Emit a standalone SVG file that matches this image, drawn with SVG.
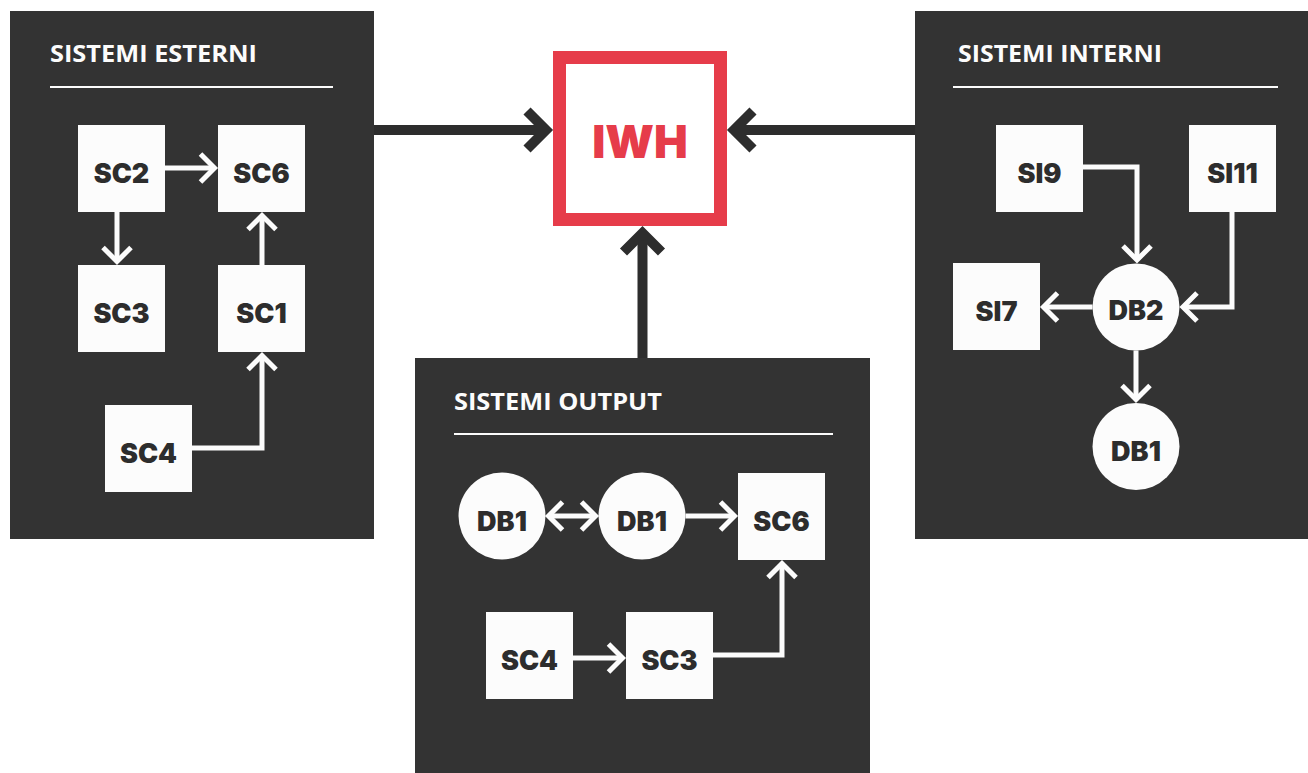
<svg xmlns="http://www.w3.org/2000/svg" width="1308" height="773" viewBox="0 0 1308 773">
<style>
.panel{fill:#333333}
.title{font-family:"Open Sans","Liberation Sans",sans-serif;font-weight:700;font-size:23px;fill:#fcfcfc}
.rule{stroke:#fcfcfc;stroke-width:2}
.box{fill:#fcfcfc}
.lbl{font-family:Inter,"Liberation Sans",sans-serif;font-weight:900;font-size:27px;fill:#2d2d2d;text-anchor:middle}
.w{fill:none;stroke:#fcfcfc;stroke-width:5;marker-end:url(#wh)}
.d{fill:none;stroke:#2d2d2d;stroke-width:10;marker-end:url(#dh)}
</style>
<defs>
<marker id="wh" markerUnits="userSpaceOnUse" orient="auto-start-reverse" refX="0" refY="0" markerWidth="40" markerHeight="40" viewBox="-20 -20 40 40" overflow="visible">
<path d="M-14,-14 L0,0 L-14,14" fill="none" stroke="#fcfcfc" stroke-width="5"/>
</marker>
<marker id="dh" markerUnits="userSpaceOnUse" orient="auto" refX="0" refY="0" markerWidth="60" markerHeight="60" viewBox="-30 -30 60 60" overflow="visible">
<path d="M-19,-19 L0,0 L-19,19" fill="none" stroke="#2d2d2d" stroke-width="10"/>
</marker>
</defs>
<rect width="1308" height="773" fill="#ffffff"/>

<g id="panel-esterni">
<rect class="panel" x="10" y="11" width="364" height="528"/>
<text class="title" x="50" y="62" textLength="207" lengthAdjust="spacingAndGlyphs">SISTEMI ESTERNI</text>
<line class="rule" x1="50" y1="87" x2="333" y2="87"/>
</g>
<g id="panel-interni">
<rect class="panel" x="915" y="11" width="393" height="528"/>
<text class="title" x="958" y="62" textLength="204" lengthAdjust="spacingAndGlyphs">SISTEMI INTERNI</text>
<line class="rule" x1="953" y1="87" x2="1278" y2="87"/>
</g>
<g id="panel-output">
<rect class="panel" x="415" y="358" width="455" height="415"/>
<text class="title" x="454" y="410" textLength="208" lengthAdjust="spacingAndGlyphs">SISTEMI OUTPUT</text>
<line class="rule" x1="454" y1="434" x2="833" y2="434"/>
</g>

<g id="iwh">
<rect x="559.5" y="57.5" width="161" height="162" fill="#ffffff" stroke="#e63c4a" stroke-width="13"/>
<text x="640" y="158" font-family="Inter,'Liberation Sans',sans-serif" font-weight="900" font-size="45" fill="#e63c4a" text-anchor="middle">IWH</text>
</g>

<g id="e-sc2"><rect class="box" x="78" y="125" width="87" height="87"/><text class="lbl" x="121.5" y="183">SC2</text></g>
<g id="e-sc6"><rect class="box" x="218" y="125" width="87" height="87"/><text class="lbl" x="261.5" y="183">SC6</text></g>
<g id="e-sc3"><rect class="box" x="78" y="265" width="87" height="87"/><text class="lbl" x="121.5" y="323">SC3</text></g>
<g id="e-sc1"><rect class="box" x="218" y="265" width="87" height="87"/><text class="lbl" x="261.5" y="323">SC1</text></g>
<g id="e-sc4"><rect class="box" x="105" y="405" width="87" height="87"/><text class="lbl" x="148.5" y="463">SC4</text></g>

<g id="i-si9"><rect class="box" x="996" y="125" width="87" height="87"/><text class="lbl" x="1039.5" y="183">SI9</text></g>
<g id="i-si11"><rect class="box" x="1189" y="125" width="87" height="87"/><text class="lbl" x="1232.5" y="183">SI11</text></g>
<g id="i-si7"><rect class="box" x="953" y="263" width="87" height="87"/><text class="lbl" x="996.5" y="321">SI7</text></g>
<g id="i-db2"><circle class="box" cx="1136" cy="307" r="43.5"/><text class="lbl" x="1136" y="320">DB2</text></g>
<g id="i-db1"><circle class="box" cx="1136" cy="446.5" r="43.5"/><text class="lbl" x="1136" y="461">DB1</text></g>

<g id="o-db1a"><circle class="box" cx="502" cy="516" r="43.5"/><text class="lbl" x="502" y="531">DB1</text></g>
<g id="o-db1b"><circle class="box" cx="642" cy="516" r="43.5"/><text class="lbl" x="642" y="531">DB1</text></g>
<g id="o-sc6"><rect class="box" x="738" y="473" width="87" height="87"/><text class="lbl" x="781.5" y="531">SC6</text></g>
<g id="o-sc4"><rect class="box" x="486" y="612" width="87" height="87"/><text class="lbl" x="529.5" y="670">SC4</text></g>
<g id="o-sc3"><rect class="box" x="626" y="612" width="87" height="87"/><text class="lbl" x="669.5" y="670">SC3</text></g>

<g id="connectors">
<path class="d" d="M374,130 H546"/>
<path class="d" d="M915,130 H734"/>
<path class="d" d="M642.5,358 V233"/>
<path class="w" d="M165,168 H214.5"/>
<path class="w" d="M117,212 V261.5"/>
<path class="w" d="M262,265 V215.5"/>
<path class="w" d="M192,448 H262 V355.5"/>
<path class="w" d="M1083,167 H1137 V260"/>
<path class="w" d="M1232,212 V307 H1183"/>
<path class="w" d="M1092.5,307 H1043.5"/>
<path class="w" d="M1136,350.5 V399.5"/>
<path class="w" d="M548.5,516 H595.5" style="marker-start:url(#wh)"/>
<path class="w" d="M685.5,516 H734.5"/>
<path class="w" d="M573,658 H622.5"/>
<path class="w" d="M713,655 H782 V563.5"/>
</g>
</svg>
